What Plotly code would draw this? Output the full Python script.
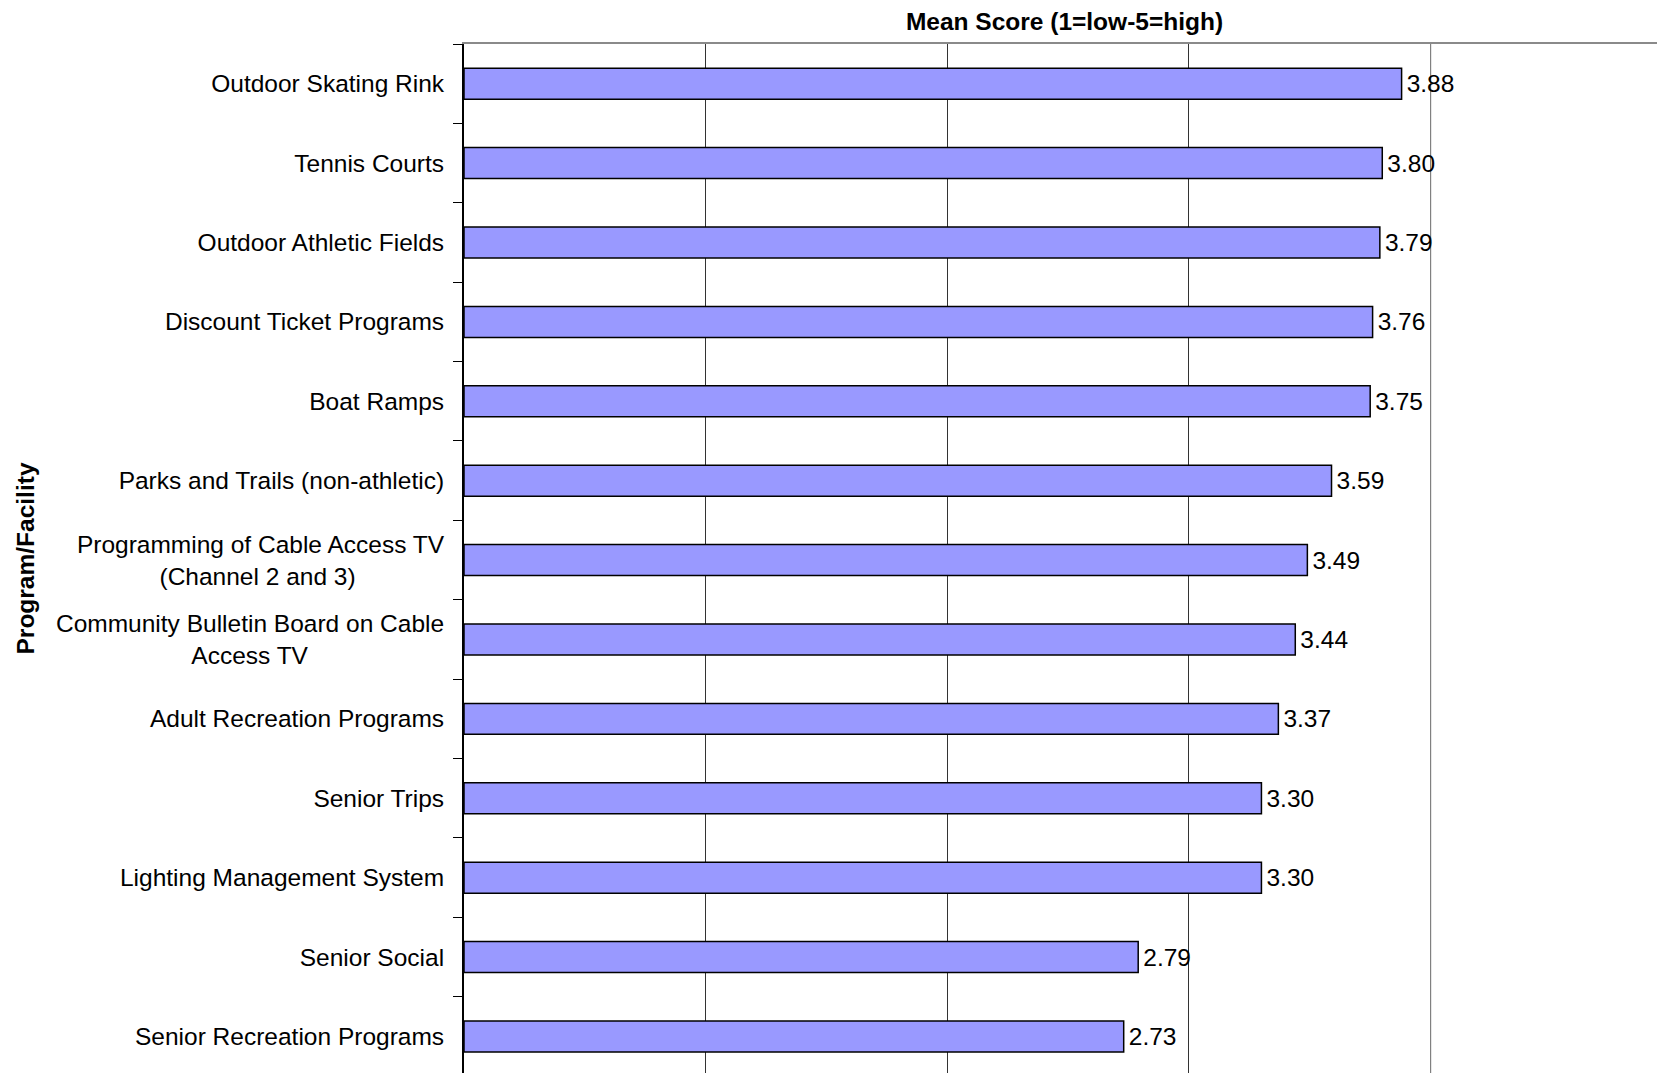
import plotly.graph_objects as go

categories = [
    "Outdoor Skating Rink",
    "Tennis Courts",
    "Outdoor Athletic Fields",
    "Discount Ticket Programs",
    "Boat Ramps",
    "Parks and Trails (non-athletic)",
    "Programming of Cable Access TV<br>(Channel 2 and 3)" + "\u00a0" * 13,
    "Community Bulletin Board on Cable<br>Access TV" + "\u00a0" * 20,
    "Adult Recreation Programs",
    "Senior Trips",
    "Lighting Management System",
    "Senior Social",
    "Senior Recreation Programs",
]
scores = [3.88, 3.80, 3.79, 3.76, 3.75, 3.59, 3.49, 3.44, 3.37, 3.30, 3.30, 2.79, 2.73]
x_title = "Mean Score (1=low-5=high)"
y_title = "Program/Facility"
major_grid = [1, 2, 3]
light_grid = [4]

FONT = "Liberation Sans, Arial, sans-serif"
FS = 24.5

fig = go.Figure()
fig.add_trace(go.Bar(
    y=categories,
    x=scores,
    orientation="h",
    width=0.39,
    marker=dict(color="#9999FF", line=dict(color="#000000", width=1.5)),
    texttemplate="\u200a%{x:.2f}",
    textposition="outside",
    textfont=dict(family=FONT, size=FS, color="#000000"),
    cliponaxis=False,
    hoverinfo="skip",
))

for v in light_grid:
    fig.add_shape(type="line", xref="x", yref="paper", x0=v, x1=v, y0=0, y1=1,
                  line=dict(color="#808080", width=1.2), layer="below")

fig.update_layout(
    width=1657,
    height=1065,
    margin=dict(l=456, r=0, t=36, b=0),
    paper_bgcolor="#ffffff",
    plot_bgcolor="#ffffff",
    showlegend=False,
    font=dict(family=FONT, size=FS, color="#000000"),
    xaxis=dict(
        side="top",
        range=[0, 4.97],
        tickvals=major_grid,
        showticklabels=False,
        ticks="",
        showgrid=True,
        gridcolor="#333333",
        gridwidth=1.2,
        zeroline=False,
        showline=True,
        linecolor="#8a8a8a",
        linewidth=2,
        title=dict(text="<b>" + x_title + "</b>", font=dict(family=FONT, size=FS), standoff=9),
        automargin=False,
    ),
    yaxis=dict(
        categoryorder="array",
        categoryarray=categories,
        range=[12.46, -0.5],
        tickson="boundaries",
        ticks="outside",
        ticklen=9,
        tickwidth=1,
        tickcolor="#000000",
        showline=True,
        linecolor="#000000",
        linewidth=2,
        showgrid=False,
        tickfont=dict(family=FONT, size=FS, color="#000000"),
        ticklabelstandoff=13,
        title=dict(text="<b>" + y_title + "</b>", font=dict(family=FONT, size=FS), standoff=14),
        automargin=True,
    ),
)

fig.write_html("out.html")
